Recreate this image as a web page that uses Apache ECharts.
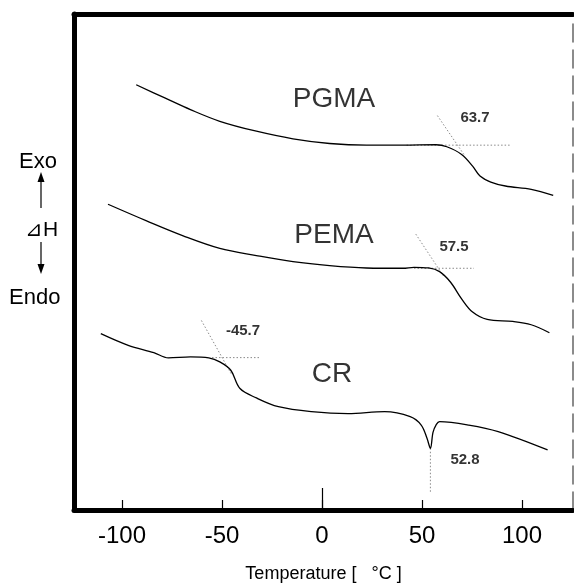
<!DOCTYPE html>
<html><head><meta charset="utf-8">
<script src="https://cdn.jsdelivr.net/npm/echarts@6/dist/echarts.min.js"></script>
<style>html,body{margin:0;padding:0;background:#fff}#c{width:574px;height:588px}</style>
</head><body><div id="c"></div>
<script>
// Temperature (°C) and relative heat-flow (arbitrary units)
const tickValues = [-100, -50, 0, 50, 100];
const pgmaT = [-92.9,-78.6,-65.8,-51.1,-32.8,-14.5,3.8,22.2,40.5,57,62.4,69.8,75.3,79,84.4,91.7,104.6,115.6];
const pgmaV = [427,413.7,402,390.3,380.3,372.7,368,366.3,366.3,366.7,364.7,357,345.3,335.3,329.3,325.3,322,316];
const pemaT = [-107,-87.7,-69.4,-51.1,-32.8,-14.5,3.8,22.2,40.5,46,53.3,58.8,64.3,69.8,75.3,82.6,95.4,104.6,113.7];
const pemaV = [307,290.3,275.3,262.7,255.5,249.3,245.3,243,242.7,243.7,243,239.3,228.7,212,198.7,191.3,189.3,186,178];
const crT = [-110.6,-96.9,-84.1,-76.8,-65.8,-56.6,-51.1,-45.6,-41,-32.8,-21.8,-5.3,13,31.3,44.1,49.6,52.5,54.2,55.5,57,58.8,73.4,88.1,112.8];
const crV = [177,165.3,158,152.7,153.7,152.7,148.7,140.3,122,112.5,103.7,98.7,96.7,98.7,93.7,85.3,72,62,78,85.3,88.7,85.3,78.7,60.3];
// tangent construction lines (dotted)
const pgmaBase = [[42.3,366.3],[94,366.3]];
const pgmaSlope = [[57.7,396],[71.5,355.3]];
const pemaBase = [[46,242.7],[76,242.7]];
const pemaSlope = [[46.9,277],[60.6,235.3]];
const crBase = [[-55,153],[-31,153]];
const crSlope = [[-60.3,190.3],[-45.5,137]];
const crPeakDrop = [[54.2,62],[54.2,17]];
// annotations
const curveNames = [['PGMA',6,412],['PEMA',6,276],['CR',5,136]];
const tempLabels = [['63.7',76.5,394],['57.5',66,264],['-45.7',-39.5,180],['52.8',71.5,50]];

const zip = (a,b)=>a.map((t,i)=>[t,b[i]]);
const FONT = '"Liberation Sans", Arial, Helvetica, sans-serif';

const curve = (name, data) => ({
  name, type:'line', data, symbol:'none', smooth:0.35,
  lineStyle:{color:'#000', width:1.3}, xAxisIndex:0, yAxisIndex:0, z:5, silent:true
});
const dotted = (data) => ({
  type:'line', data, symbol:'none',
  lineStyle:{color:'#8a8a8a', width:1, type:[1.5,2]}, xAxisIndex:0, yAxisIndex:0, z:4, silent:true
});
const textSeries = (items, size, weight) => ({
  type:'scatter', symbolSize:0, xAxisIndex:0, yAxisIndex:0, silent:true,
  data: items.map(d=>({value:[d[1],d[2]], label:{formatter:d[0]}})),
  label:{show:true, position:'inside', color:'#000', fontSize:size, fontWeight:weight, fontFamily:FONT}
});

const xCommon = {type:'value', min:-124, max:125.5, splitLine:{show:false}};
const option = {
  animation:false,
  grid:{left:74, top:14, right:1, bottom:76, containLabel:false},
  xAxis:[
    Object.assign({}, xCommon, {
      position:'bottom',
      axisLine:{show:true, onZero:false, lineStyle:{color:'#000', width:5}},
      axisTick:{show:true, inside:true, length:10, customValues:tickValues, lineStyle:{color:'#000', width:1.2}},
      axisLabel:{show:true, customValues:tickValues, margin:14, color:'#000', fontSize:24, fontFamily:FONT},
      name:'Temperature [   °C ]', nameLocation:'middle', nameGap:55,
      nameTextStyle:{color:'#000', fontSize:18, fontFamily:FONT}
    }),
    Object.assign({}, xCommon, {
      position:'top',
      axisLine:{show:true, onZero:false, lineStyle:{color:'#000', width:5}},
      axisTick:{show:false}, axisLabel:{show:false}
    }),
    Object.assign({}, xCommon, {
      position:'bottom',
      axisLine:{show:false}, axisLabel:{show:false},
      axisTick:{show:true, inside:true, length:22, customValues:[0], lineStyle:{color:'#000', width:1.2}}
    })
  ],
  yAxis:[
    {type:'value', min:0, max:498, position:'left', splitLine:{show:false},
     axisLine:{show:true, onZero:false, lineStyle:{color:'#000', width:5}},
     axisTick:{show:false}, axisLabel:{show:false}},
    {type:'value', min:0, max:498, position:'right', splitLine:{show:false},
     axisLine:{show:true, onZero:false, lineStyle:{color:'#666', width:1.5, type:[18,8]}},
     axisTick:{show:false}, axisLabel:{show:false}}
  ],
  series:[
    curve('PGMA', zip(pgmaT,pgmaV)),
    curve('PEMA', zip(pemaT,pemaV)),
    curve('CR', zip(crT,crV)),
    dotted(pgmaBase), dotted(pgmaSlope),
    dotted(pemaBase), dotted(pemaSlope),
    dotted(crBase), dotted(crSlope), dotted(crPeakDrop),
    textSeries(curveNames, 28, 'normal'),
    textSeries(tempLabels, 15, 'bold')
  ],
  graphic:[
    {type:'text', left:19, top:151, style:{text:'Exo', font:'22px '+FONT, fill:'#000'}},
    {type:'line', shape:{x1:41, y1:208, x2:41, y2:180}, style:{stroke:'#000', lineWidth:1.2}},
    {type:'polygon', shape:{points:[[41,172],[37.5,182],[44.5,182]]}, style:{fill:'#000'}},
    {type:'text', left:25, top:220, style:{text:'⊿H', font:'21px '+FONT, fill:'#000'}},
    {type:'line', shape:{x1:41, y1:242, x2:41, y2:266}, style:{stroke:'#000', lineWidth:1.2}},
    {type:'polygon', shape:{points:[[41,274],[37.5,264],[44.5,264]]}, style:{fill:'#000'}},
    {type:'text', left:9, top:287, style:{text:'Endo', font:'22px '+FONT, fill:'#000'}}
  ]
};
echarts.init(document.getElementById('c'), null, {renderer:'canvas'}).setOption(option);
</script>
</body></html>
